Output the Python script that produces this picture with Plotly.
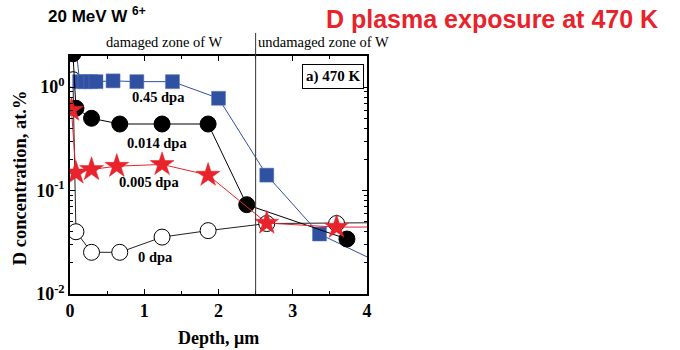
import plotly.graph_objects as go

# ---- data ----
x_045 = [0.08, 0.13, 0.20, 0.28, 0.35, 0.58, 0.90, 1.38, 2.00, 2.65, 3.36, 4.30]
y_045 = [2.4, 1.13, 1.13, 1.13, 1.13, 1.15, 1.13, 1.13, 0.78, 0.141, 0.038, 0.018]

x_014 = [0.04, 0.08, 0.29, 0.67, 1.24, 1.86, 2.38, 3.73]
y_014 = [2.1, 0.625, 0.50, 0.44, 0.44, 0.44, 0.073, 0.034]

x_005 = [0.02, 0.08, 0.29, 0.63, 1.24, 1.86, 2.65, 3.59, 4.30]
y_005 = [0.60, 0.148, 0.16, 0.172, 0.179, 0.141, 0.0485, 0.0443, 0.0445]

x_0 = [0.04, 0.08, 0.29, 0.67, 1.24, 1.86, 2.65, 3.59, 4.30]
y_0 = [1.18, 0.040, 0.0253, 0.0253, 0.0355, 0.041, 0.048, 0.048, 0.049]

x_ticks = [0, 1, 2, 3, 4]
y_tickvals = [0.01, 0.1, 1]
y_ticktext = ["10<sup>-2</sup>", "10<sup>-1</sup>", "10<sup>0</sup>"]

SERIF = "Liberation Serif"
SANS = "Liberation Sans"
BLUE = "#3050a2"
RED = "#e8232b"

fig = go.Figure()

fig.add_trace(go.Scatter(x=x_0, y=y_0, mode="lines+markers",
    line=dict(color="#222222", width=1),
    marker=dict(symbol="circle", size=16, color="white", line=dict(color="black", width=1))))
fig.add_trace(go.Scatter(x=x_045, y=y_045, mode="lines+markers",
    line=dict(color=BLUE, width=1),
    marker=dict(symbol="square", size=14, color=BLUE, line=dict(color="#5a78c0", width=0.5))))
fig.add_trace(go.Scatter(x=x_014, y=y_014, mode="lines+markers",
    line=dict(color="black", width=1),
    marker=dict(symbol="circle", size=16, color="black", line=dict(color="black", width=1))))
fig.add_trace(go.Scatter(x=x_005, y=y_005, mode="lines+markers",
    line=dict(color=RED, width=1),
    marker=dict(symbol="star", size=18, color=RED, line=dict(color=RED, width=0.5))))

# vertical boundary line
fig.add_shape(type="line", xref="x", yref="paper", x0=2.5, x1=2.5, y0=0, y1=1.097,
              line=dict(color="#333333", width=1))

ann = []
def add(text, x, y, xref="paper", yref="paper", size=14.5, font=SERIF, color="black",
        xanchor="center", yanchor="middle", textangle=0, weight="normal", **kw):
    ann.append(dict(text=text, x=x, y=y, xref=xref, yref=yref, showarrow=False,
                    xanchor=xanchor, yanchor=yanchor, textangle=textangle,
                    font=dict(family=font, size=size, color=color, weight=weight), **kw))

add("damaged zone of W", 0.3165, 1.059)
add("undamaged zone of W", 0.852, 1.059)
add("<b>a) 470 K</b>", 0.887, 0.913, size=15, bordercolor="black", borderwidth=1, borderpad=3,
    bgcolor="white")
add("<b>0.45 dpa</b>", 1.186, -0.094, xref="x", yref="y")
add("<b>0.014 dpa</b>", 1.168, -0.544, xref="x", yref="y")
add("<b>0.005 dpa</b>", 1.065, -0.917, xref="x", yref="y")
add("<b>0 dpa</b>", 1.157, -1.638, xref="x", yref="y")
add("<b>20 MeV W <sup>6+</sup></b>", -0.081, 1.173, font=SANS, size=17, xanchor="left")
add("<b>D plasma exposure at 470 K</b>", 1.987, 1.156, font=SANS, size=25, color=RED,
    xanchor="right")
add("<b>Depth, μm</b>", 0.5, -0.185, size=18)
add("<b>D concentration, at.%</b>", -0.168, 0.487, size=18.5, textangle=-90)

fig.update_layout(
    width=680, height=350,
    margin=dict(l=70, r=313, t=56, b=56),
    plot_bgcolor="white", paper_bgcolor="white",
    showlegend=False,
    annotations=ann,
    xaxis=dict(range=[0, 4], tickmode="array", tickvals=x_ticks,
               ticks="inside", ticklen=5, tickwidth=1, tickcolor="black",
               showline=True, linecolor="black", linewidth=1.5, mirror="ticks",
               showgrid=False, zeroline=False,
               tickfont=dict(family=SERIF, size=18, color="black", weight="bold"),
               minor=dict(ticks="inside", ticklen=3, tickwidth=1, tickcolor="black",
                          tickvals=[0.5, 1.5, 2.5, 3.5], showgrid=False)),
    yaxis=dict(type="log", range=[-2, 0.301], tickmode="array",
               tickvals=y_tickvals, ticktext=y_ticktext,
               ticks="inside", ticklen=5, tickwidth=1, tickcolor="black",
               showline=True, linecolor="black", linewidth=1.5, mirror="ticks",
               showgrid=False, zeroline=False,
               tickfont=dict(family=SERIF, size=18, color="black", weight="bold"),
               minor=dict(ticks="inside", ticklen=3, tickwidth=1, tickcolor="black",
                          tickvals=[0.02, 0.03, 0.04, 0.05, 0.06, 0.07, 0.08, 0.09,
                                    0.2, 0.3, 0.4, 0.5, 0.6, 0.7, 0.8, 0.9, 2],
                          showgrid=False)),
)

fig.write_html("out.html")
